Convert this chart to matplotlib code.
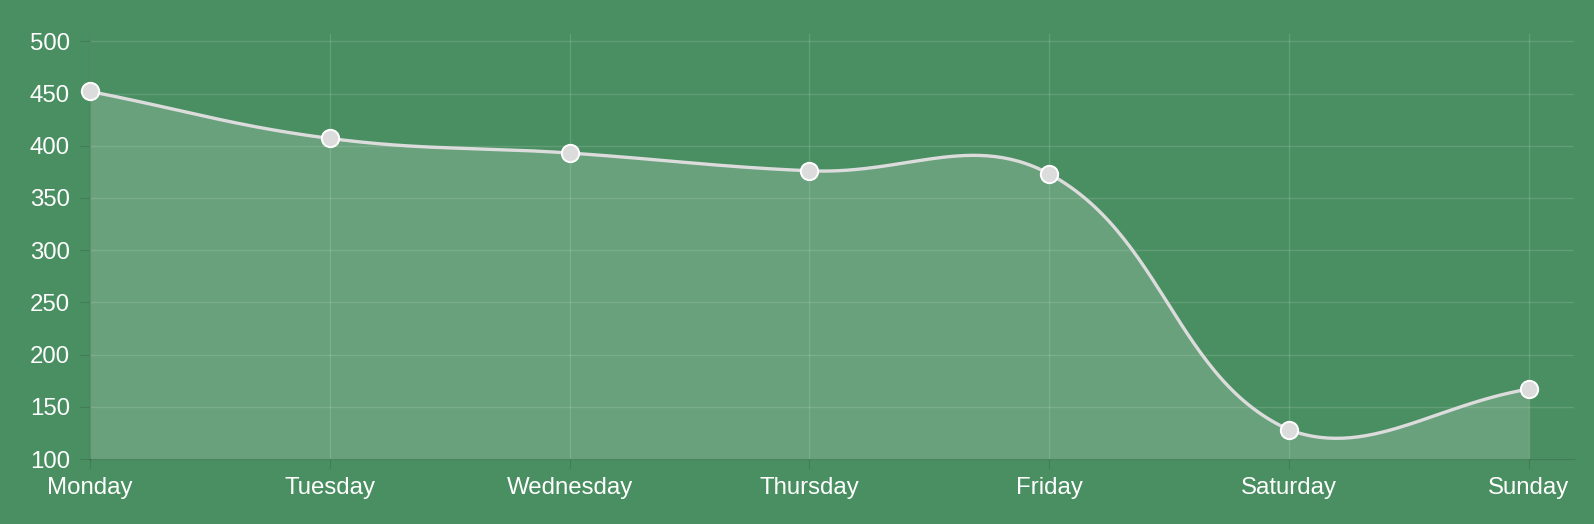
import numpy as np
import matplotlib
matplotlib.use("Agg")
import matplotlib.pyplot as plt

days = ["Monday", "Tuesday", "Wednesday", "Thursday", "Friday", "Saturday", "Sunday"]
values = [452, 407, 393, 376, 373, 128, 167]
y_ticks = [100, 150, 200, 250, 300, 350, 400, 450, 500]

BG = "#4a8f62"
LINE = "#dcdcdc"
TENSION = 0.4

plt.rcParams["font.family"] = ["Liberation Sans", "DejaVu Sans"]

W, H = 1594, 524
fig = plt.figure(figsize=(W / 100, H / 100), dpi=100, facecolor=BG)
# axes box in pixels: left 90, right 1574, top 34, bottom 459
ax = fig.add_axes([90 / W, (H - 459) / H, (1574 - 90) / W, (459 - 34) / H])
ax.set_facecolor(BG)
ax.set_xlim(0, 6.188)
ax.set_ylim(100, 507)

x = np.arange(len(days))
y = np.array(values, dtype=float)

# chart.js style bezier, control points computed in pixel space
fig.canvas.draw()
pts = ax.transData.transform(np.column_stack([x, y]))
n = len(pts)
ctrl_prev, ctrl_next = [], []
for i in range(n):
    cur = pts[i]
    prv = pts[i - 1] if i > 0 else cur
    nxt = pts[i + 1] if i < n - 1 else cur
    d01 = np.hypot(*(cur - prv))
    d12 = np.hypot(*(nxt - cur))
    s01 = d01 / (d01 + d12)
    s12 = d12 / (d01 + d12)
    ctrl_prev.append(cur - TENSION * s01 * (nxt - prv))
    ctrl_next.append(cur + TENSION * s12 * (nxt - prv))

bb = ax.bbox
curve = []
t = np.linspace(0, 1, 60)[:, None]
for i in range(n - 1):
    p0, p3 = pts[i], pts[i + 1]
    p1 = np.clip(ctrl_next[i], [bb.x0, bb.y0], [bb.x1, bb.y1])
    p2 = np.clip(ctrl_prev[i + 1], [bb.x0, bb.y0], [bb.x1, bb.y1])
    seg = (1 - t) ** 3 * p0 + 3 * (1 - t) ** 2 * t * p1 + 3 * (1 - t) * t ** 2 * p2 + t ** 3 * p3
    curve.append(seg if i == 0 else seg[1:])
curve = ax.transData.inverted().transform(np.vstack(curve))

ax.fill_between(curve[:, 0], curve[:, 1], 100, color="white", alpha=0.17, lw=0, zorder=2)
ax.plot(curve[:, 0], curve[:, 1], color=LINE, lw=2.4, zorder=3, solid_capstyle="round", clip_on=False)
ax.plot(x, y, "o", ms=12.5, mfc=LINE, mec="white", mew=1.4, zorder=4, clip_on=False)

ax.set_xticks(x)
ax.set_xticklabels(days)
ax.set_yticks(y_ticks)
ax.grid(True, color="white", alpha=0.13, lw=1)
ax.set_axisbelow(True)

for s in ["top", "right"]:
    ax.spines[s].set_visible(False)
for s in ["left", "bottom"]:
    ax.spines[s].set_color((0, 0, 0, 0.12))
    ax.spines[s].set_linewidth(1)

ax.tick_params(colors=(0, 0, 0, 0.12), length=7.2, width=0.8, labelsize=17.3, labelcolor="white")
ax.tick_params(axis="y", pad=7.2)
ax.tick_params(axis="x", pad=6)

fig.savefig("out.png", dpi=100, facecolor=BG)
